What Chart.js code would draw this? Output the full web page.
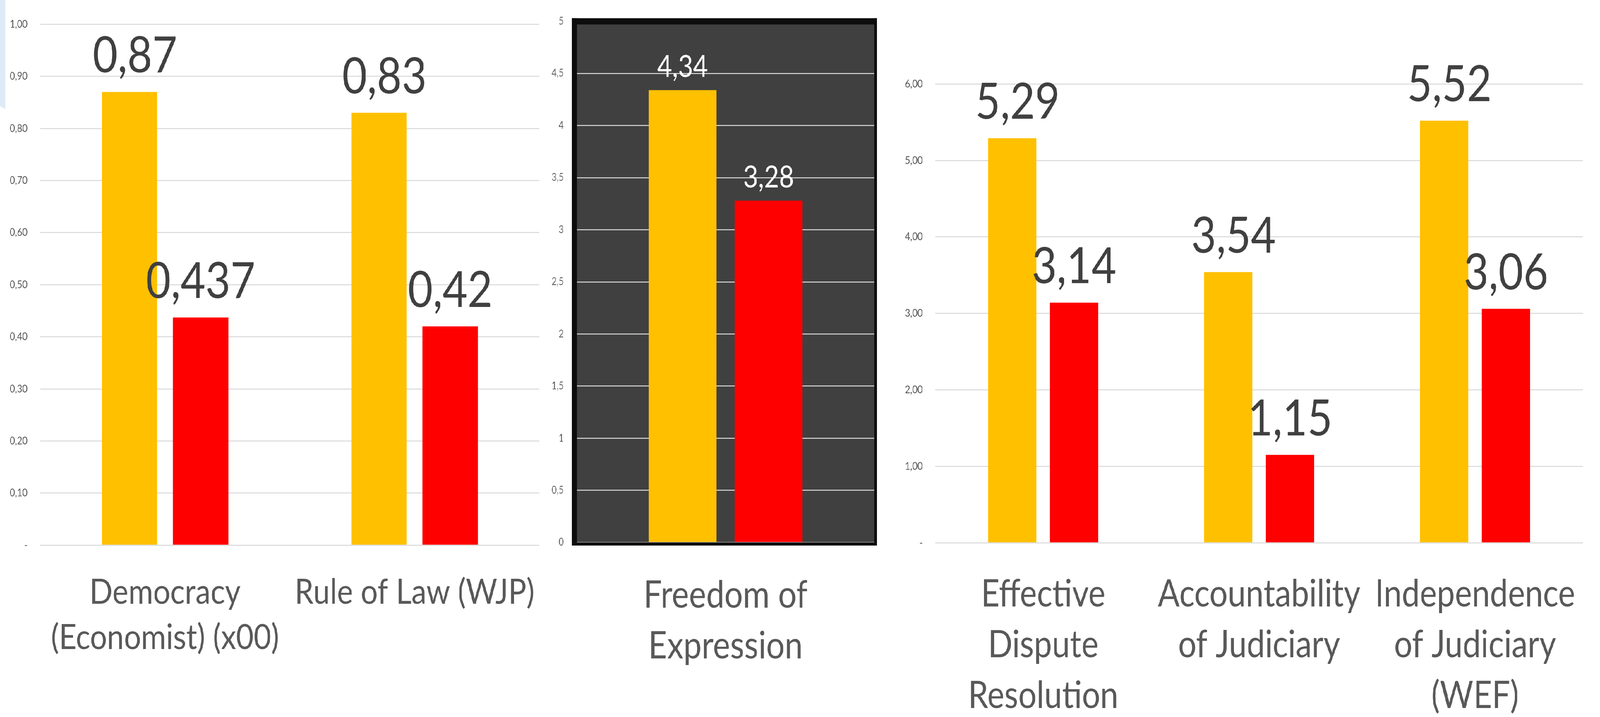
<!DOCTYPE html>
<html>
<head>
<meta charset="utf-8">
<script src="https://cdn.jsdelivr.net/npm/chart.js@4.4.1/dist/chart.umd.min.js"></script>
<style>
  html, body { margin: 0; padding: 0; background: #fff; overflow: hidden; }
  #page { width: 4763px; height: 1836px; position: relative; transform-origin: 0 0; }
  .panel { position: absolute; top: 0; height: 1836px; }
  #deco { position: absolute; left: 0; top: 0; width: 16px; height: 280px; background: #deebf7;
          clip-path: polygon(0 0, 100% 0, 100% 100%, 0 97%); }
</style>
</head>
<body>
<div id="page">
  <div id="deco"></div>
  <div class="panel" style="left:0;width:1660px"><canvas id="chartA" width="1660" height="1836"></canvas></div>
  <div class="panel" style="left:1600px;width:1020px"><canvas id="chartB" width="1020" height="1836"></canvas></div>
  <div class="panel" style="left:2620px;width:2143px"><canvas id="chartC" width="2143" height="1836"></canvas></div>
</div>
<script>
// DATA
const categoriesA = [['Democracy', '(Economist) (x00)'], 'Rule of Law (WJP)'];
const yellowA = [0.87, 0.83];
const redA = [0.437, 0.42];
const ticksA = ['-', '0,10', '0,20', '0,30', '0,40', '0,50', '0,60', '0,70', '0,80', '0,90', '1,00'];

const categoriesB = [['Freedom of', 'Expression']];
const yellowB = [4.34];
const redB = [3.28];
const ticksB = ['0', '0,5', '1', '1,5', '2', '2,5', '3', '3,5', '4', '4,5', '5'];

const categoriesC = [['Effective', 'Dispute', 'Resolution'], ['Accountability', 'of Judiciary'], ['Independence', 'of Judiciary', '(WEF)']];
const yellowC = [5.29, 3.54, 5.52];
const redC = [3.14, 1.15, 3.06];
const ticksC = ['-', '1,00', '2,00', '3,00', '4,00', '5,00', '6,00'];

const YELLOW = '#FFC000';
const RED = '#FF0000';

// the window is narrower than the 4763px design, squeeze it horizontally to fit
document.getElementById('page').style.transform = 'scale(' + (window.innerWidth / 4763) + ', 1)';

// value labels above bars (no datalabels plugin available offline)
const valueLabels = {
    id: 'valueLabels',
    afterDatasetsDraw(chart, args, opts) {
        const ctx = chart.ctx;
        ctx.save();
        ctx.font = opts.font;
        ctx.fillStyle = opts.color;
        ctx.textAlign = 'center';
        ctx.textBaseline = 'alphabetic';
        chart.data.datasets.forEach((ds, di) => {
            chart.getDatasetMeta(di).data.forEach((bar, i) => {
                ctx.fillText(String(ds.data[i]).replace('.', ','), bar.x + opts.shift[di], bar.y - opts.offset);
            });
        });
        ctx.restore();
    }
};

// dark plot background + black frame for the middle chart
const darkFrame = {
    id: 'darkFrame',
    beforeDraw(chart) {
        const a = chart.chartArea, ctx = chart.ctx;
        ctx.save();
        ctx.fillStyle = '#404040';
        ctx.fillRect(a.left, a.top, a.right - a.left, a.bottom - a.top);
        ctx.restore();
    },
    afterDraw(chart) {
        const a = chart.chartArea, ctx = chart.ctx;
        ctx.save();
        ctx.fillStyle = '#0d0d0d';
        ctx.fillRect(a.left - 15, a.top - 8, 15, a.bottom - a.top + 16);
        ctx.fillRect(a.left - 15, a.top - 8, a.right - a.left + 23, 16);
        ctx.fillRect(a.right, a.top - 8, 8, a.bottom - a.top + 16);
        ctx.fillRect(a.left - 15, a.bottom, a.right - a.left + 23, 8);
        ctx.restore();
    }
};

function makeChart(id, cfg) {
    return new Chart(document.getElementById(id), {
        type: 'bar',
        data: {
            labels: cfg.labels,
            datasets: [
                { data: cfg.yellow, backgroundColor: YELLOW, categoryPercentage: cfg.catPct, barPercentage: cfg.barPct },
                { data: cfg.red, backgroundColor: RED, categoryPercentage: cfg.catPct, barPercentage: cfg.barPct }
            ]
        },
        options: {
            responsive: false,
            animation: false,
            devicePixelRatio: 1,
            layout: { padding: { top: cfg.top, right: cfg.right, left: 0, bottom: 0 } },
            scales: {
                x: {
                    grid: { display: false, drawTicks: false },
                    border: { display: false },
                    afterFit: s => { s.height = cfg.xHeight; },
                    ticks: {
                        color: '#595959',
                        padding: cfg.xPad,
                        maxRotation: 0,
                        autoSkip: false,
                        font: { family: 'Lato', size: cfg.catSize, lineHeight: cfg.catLine }
                    }
                },
                y: {
                    min: 0,
                    max: cfg.max,
                    afterFit: s => { s.width = cfg.yWidth; },
                    grid: { color: '#d9d9d9', lineWidth: 2.5, drawTicks: false },
                    border: { display: false },
                    ticks: {
                        stepSize: cfg.step,
                        padding: cfg.yPad,
                        color: '#595959',
                        font: { family: 'Lato', size: cfg.tickSize },
                        callback: (v, i) => cfg.ticks[i]
                    }
                }
            },
            plugins: {
                legend: { display: false },
                tooltip: { enabled: false },
                valueLabels: { font: cfg.valueFont, color: cfg.valueColor, offset: cfg.valueOffset, shift: cfg.shift }
            }
        },
        plugins: cfg.extra ? [valueLabels, cfg.extra] : [valueLabels]
    });
}

// LEFT CHART
makeChart('chartA', {
    labels: categoriesA, yellow: yellowA, red: redA, ticks: ticksA,
    max: 1, step: 0.1, top: 62, right: 24, xHeight: 440, yWidth: 120, yPad: 38, tickSize: 27,
    xPad: 63, catSize: 90, catLine: 1.29,
    catPct: 0.57, barPct: 0.78,
    valueFont: '128px Lato', valueColor: '#404040', valueOffset: 50, shift: [16, 0]
});

// MIDDLE CHART
makeChart('chartB', {
    labels: categoriesB, yellow: yellowB, red: redB, ticks: ticksB,
    max: 5, step: 0.5, top: 29, right: 17, xHeight: 447, yWidth: 117, yPad: 39, tickSize: 26,
    xPad: 71, catSize: 97, catLine: 1.34,
    catPct: 0.578, barPct: 0.79,
    valueFont: '77px Lato', valueColor: '#ffffff', valueOffset: 34, shift: [0, 0],
    extra: darkFrame
});

// RIGHT CHART
makeChart('chartC', {
    labels: categoriesC, yellow: yellowC, red: redC, ticks: ticksC,
    max: 6, step: 1, top: 215, right: 42, xHeight: 446, yWidth: 164, yPad: 37, tickSize: 27,
    xPad: 67, catSize: 96, catLine: 1.354,
    catPct: 0.573, barPct: 0.78,
    valueFont: '128px Lato', valueColor: '#404040', valueOffset: 50, shift: [16, 0]
});
</script>
</body>
</html>
